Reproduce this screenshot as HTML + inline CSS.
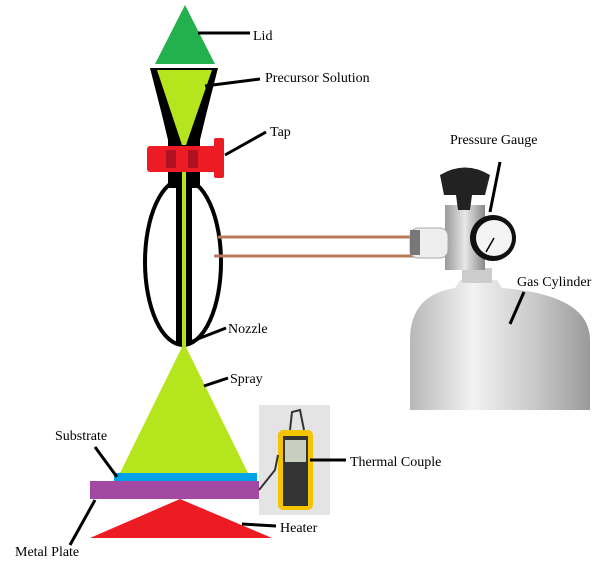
<!DOCTYPE html>
<html><head><style>body{margin:0;background:#fff}svg{display:block}text{font-family:"Liberation Serif",serif;font-size:14px;fill:#000}</style></head><body>
<svg width="609" height="569" viewBox="0 0 609 569" xmlns="http://www.w3.org/2000/svg">
<defs>
<linearGradient id="cyl" x1="0" x2="1"><stop offset="0" stop-color="#b8b8b8"/><stop offset="0.35" stop-color="#f2f2f2"/><stop offset="0.7" stop-color="#c8c8c8"/><stop offset="1" stop-color="#9a9a9a"/></linearGradient>
<linearGradient id="val" x1="0" x2="1"><stop offset="0" stop-color="#999"/><stop offset="0.5" stop-color="#e8e8e8"/><stop offset="1" stop-color="#888"/></linearGradient>
</defs>
<!-- Lid -->
<polygon points="185,5 155,64 215,64" fill="#22b14c"/>
<line x1="198" y1="33" x2="250" y2="33" stroke="#000" stroke-width="3"/>
<text x="253" y="40">Lid</text>
<!-- vessel -->
<polygon points="150,68 218,68 206,115 200,140 200,188 168,188 168,140 162,115" fill="#000"/>
<polygon points="157,70 212,70 186,145 182,145" fill="#b5e61d"/>
<ellipse cx="183" cy="262" rx="38" ry="83" fill="none" stroke="#000" stroke-width="4"/>
<rect x="176" y="168" width="16" height="176" fill="#000"/>
<rect x="182" y="168" width="4" height="178" fill="#b5e61d"/>
<!-- tap -->
<rect x="147" y="146" width="72" height="26" rx="3" fill="#ed1c24"/>
<rect x="214" y="138" width="10" height="40" rx="2" fill="#ed1c24"/>
<rect x="166" y="150" width="10" height="18" fill="#b01020"/><rect x="188" y="150" width="10" height="18" fill="#b01020"/>
<line x1="225" y1="155" x2="266" y2="132" stroke="#000" stroke-width="3"/>
<text x="270" y="136">Tap</text>
<line x1="205" y1="86" x2="260" y2="79" stroke="#000" stroke-width="3"/>
<text x="265" y="82">Precursor Solution</text>
<!-- brown tubes -->
<line x1="218" y1="237" x2="415" y2="237" stroke="#b97a57" stroke-width="3"/>
<line x1="214" y1="256" x2="415" y2="256" stroke="#b97a57" stroke-width="3"/>
<!-- nozzle -->
<line x1="190" y1="342" x2="226" y2="328" stroke="#000" stroke-width="3"/>
<text x="228" y="333">Nozzle</text>
<!-- spray -->
<polygon points="184,343 120,473 248,473" fill="#b5e61d"/>
<line x1="204" y1="386" x2="228" y2="378" stroke="#000" stroke-width="3"/>
<text x="230" y="383">Spray</text>
<rect x="114" y="473" width="143" height="8" fill="#00a2e8"/>
<rect x="90" y="481" width="169" height="18" fill="#a349a4"/>
<polygon points="180,499 90,538 272,538" fill="#ed1c24"/>
<line x1="242" y1="524" x2="276" y2="526" stroke="#000" stroke-width="3"/>
<text x="280" y="532">Heater</text>
<line x1="95" y1="447" x2="117" y2="477" stroke="#000" stroke-width="3"/>
<text x="55" y="440">Substrate</text>
<line x1="70" y1="545" x2="95" y2="500" stroke="#000" stroke-width="3"/>
<text x="15" y="556">Metal Plate</text>
<!-- thermometer -->
<rect x="259" y="405" width="71" height="110" fill="#e4e4e4"/>
<rect x="278" y="430" width="35" height="80" rx="5" fill="#f5c400"/>
<rect x="283" y="436" width="25" height="70" fill="#333"/>
<rect x="285" y="440" width="21" height="22" fill="#c8cfc0"/>
<path d="M290 430 L292 412 L300 410 L304 430" stroke="#333" stroke-width="2" fill="none"/>
<path d="M259 490 L275 470 L278 455" stroke="#333" stroke-width="2" fill="none"/>
<line x1="310" y1="460" x2="346" y2="460" stroke="#000" stroke-width="3"/>
<text x="350" y="466">Thermal Couple</text>
<!-- cylinder -->
<path d="M410 410 L410 340 Q410 295 455 288 L460 280 L497 280 L502 288 Q590 295 590 340 L590 410 Z" fill="url(#cyl)"/>
<rect x="462" y="268" width="30" height="15" fill="#ccc"/>
<rect x="445" y="205" width="40" height="65" fill="url(#val)"/>
<rect x="410" y="228" width="38" height="30" rx="8" fill="#eee" stroke="#aaa"/>
<rect x="410" y="230" width="10" height="25" fill="#777"/>
<path d="M440 175 Q465 160 490 175 L485 195 L472 195 L470 210 L458 210 L456 195 L444 195 Z" fill="#222"/>
<circle cx="493" cy="238" r="23" fill="#111"/>
<circle cx="494" cy="238" r="18" fill="#f4f4f4"/>
<line x1="494" y1="238" x2="486" y2="252" stroke="#000" stroke-width="1.5"/>
<line x1="500" y1="162" x2="490" y2="212" stroke="#000" stroke-width="3"/>
<text x="450" y="144">Pressure Gauge</text>
<line x1="524" y1="292" x2="510" y2="324" stroke="#000" stroke-width="3"/>
<text x="517" y="286">Gas Cylinder</text>
</svg>
</body></html>
